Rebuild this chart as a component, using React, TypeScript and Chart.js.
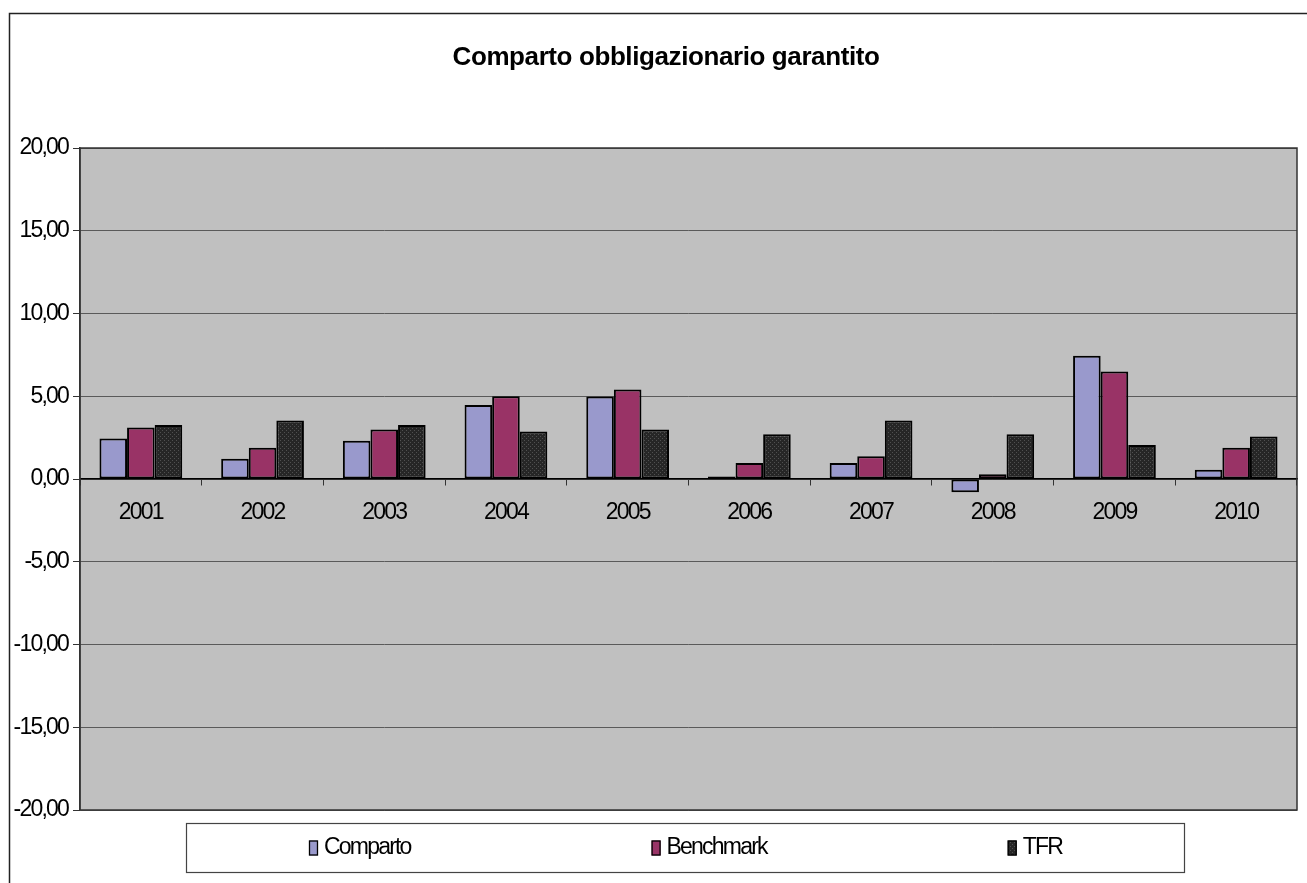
import React, { useEffect, useRef } from "react";
import { Chart, registerables } from "chart.js";

Chart.register(...registerables);

const categories = ["2001", "2002", "2003", "2004", "2005", "2006", "2007", "2008", "2009", "2010"];
const comparto = [2.45, 1.23, 2.31, 4.47, 4.99, 0.15, 0.96, -0.8, 7.44, 0.56];
const benchmark = [3.11, 1.89, 2.99, 5.0, 5.41, 0.96, 1.38, 0.28, 6.49, 1.89];
const tfr = [3.27, 3.53, 3.27, 2.87, 2.99, 2.71, 3.53, 2.71, 2.05, 2.57];
const seriesNames = ["Comparto", "Benchmark", "TFR"];
const yMin = -20;
const yMax = 20;
const yStep = 5;
const titleText = "Comparto obbligazionario garantito";

const FONT = '"Liberation Sans", Arial, sans-serif';
const TICK_SPACING = "-1.8px";

export default function App() {
  const ref = useRef<HTMLCanvasElement>(null);

  useEffect(() => {
    const canvas = ref.current!;
    const pc = document.createElement("canvas");
    pc.width = 4;
    pc.height = 4;
    const p = pc.getContext("2d")!;
    p.fillStyle = "#262626";
    p.fillRect(0, 0, 4, 4);
    p.fillStyle = "#505050";
    p.fillRect(0, 0, 1, 1);
    p.fillRect(2, 2, 1, 1);
    const pattern = canvas.getContext("2d")!.createPattern(pc, "repeat")!;

    const fills: any[] = ["#9999CC", "#993366", pattern];

    const framePlugin = {
      id: "frame",
      beforeUpdate(chart: any) {
        chart.ctx.letterSpacing = TICK_SPACING;
      },
      beforeDraw(chart: any) {
        const { ctx, chartArea: a } = chart;
        ctx.letterSpacing = TICK_SPACING;
        ctx.save();
        ctx.fillStyle = "#C0C0C0";
        ctx.fillRect(a.left, a.top, a.right - a.left, a.bottom - a.top);
        ctx.strokeStyle = "#222";
        ctx.lineWidth = 1.5;
        ctx.beginPath();
        ctx.moveTo(9.5, 900);
        ctx.lineTo(9.5, 13.5);
        ctx.lineTo(1320, 13.5);
        ctx.stroke();
        ctx.restore();
      },
      afterDraw(chart: any) {
        const { ctx, chartArea: a } = chart;
        ctx.save();
        // plot border
        ctx.strokeStyle = "#333";
        ctx.lineWidth = 1.5;
        ctx.strokeRect(a.left, a.top, a.right - a.left, a.bottom - a.top);

        // title
        ctx.fillStyle = "#000";
        ctx.font = `bold 26px ${FONT}`;
        ctx.letterSpacing = "-0.4px";
        ctx.textAlign = "center";
        ctx.textBaseline = "middle";
        ctx.fillText(titleText, 666, 58);

        // legend
        const L = { x: 186.5, y: 823.5, w: 998, h: 49 };
        ctx.fillStyle = "#fff";
        ctx.fillRect(L.x, L.y, L.w, L.h);
        ctx.strokeStyle = "#444";
        ctx.lineWidth = 1.2;
        ctx.strokeRect(L.x, L.y, L.w, L.h);
        ctx.font = `23px ${FONT}`;
        ctx.letterSpacing = TICK_SPACING;
        ctx.textAlign = "left";
        ctx.textBaseline = "middle";
        const names = chart.data.datasets.map((d: any) => d.label);
        const sw = 9;
        const sh = 15;
        const gapText = 6;
        const gap = 241;
        const widths = names.map((n: string) => sw + gapText + ctx.measureText(n).width);
        const total = widths.reduce((s: number, w: number) => s + w, 0) + gap * (names.length - 1);
        let x = L.x + L.w / 2 - total / 2;
        const cy = L.y + L.h / 2;
        names.forEach((n: string, i: number) => {
          ctx.fillStyle = fills[i];
          ctx.fillRect(x, cy - sh / 2, sw, sh);
          ctx.strokeStyle = "#000";
          ctx.lineWidth = 1.3;
          ctx.strokeRect(x + 0.5, cy - sh / 2 + 0.5, sw - 1, sh - 1);
          ctx.fillStyle = "#000";
          ctx.fillText(n, x + sw + gapText, cy);
          x += widths[i] + gap;
        });
        ctx.restore();
      },
    };

    const mk = (label: string, data: number[], bg: any) => ({
      label,
      data,
      backgroundColor: bg,
      borderColor: "#000",
      borderWidth: 2,
      borderSkipped: false,
      categoryPercentage: 0.68,
      barPercentage: 1,
    });

    const chart = new Chart(canvas, {
      type: "bar",
      data: {
        labels: categories,
        datasets: [
          mk(seriesNames[0], comparto, fills[0]),
          mk(seriesNames[1], benchmark, fills[1]),
          mk(seriesNames[2], tfr, fills[2]),
        ],
      },
      options: {
        animation: false,
        responsive: false,
        devicePixelRatio: 1,
        layout: { padding: { left: 0, right: 10, top: 148, bottom: 73 } },
        plugins: {
          legend: { display: false },
          title: { display: false },
          tooltip: { enabled: false },
        },
        scales: {
          x: {
            position: { y: 0 } as any,
            grid: {
              offset: true,
              drawOnChartArea: false,
              tickLength: 6,
              color: "#333",
              tickColor: "#333",
            },
            border: { display: true, color: "#000", width: 1.5 },
            ticks: {
              color: "#000",
              font: { family: FONT, size: 23 },
              padding: 14,
              maxRotation: 0,
              autoSkip: false,
            },
          },
          y: {
            min: yMin,
            max: yMax,
            ticks: {
              stepSize: yStep,
              color: "#000",
              font: { family: FONT, size: 23 },
              padding: 5,
              callback: (v: any) => Number(v).toFixed(2).replace(".", ","),
            },
            grid: { color: "#5a5a5a", lineWidth: 1, tickLength: 7, tickColor: "#333" },
            border: { display: true, color: "#333", width: 1.5 },
            afterFit(scale: any) {
              scale.width = 80;
            },
          },
        },
      },
      plugins: [framePlugin],
    });

    return () => chart.destroy();
  }, []);

  return (
    <canvas
      ref={ref}
      width={1307}
      height={883}
      style={{ position: "absolute", left: 0, top: 0, display: "block" }}
    />
  );
}
